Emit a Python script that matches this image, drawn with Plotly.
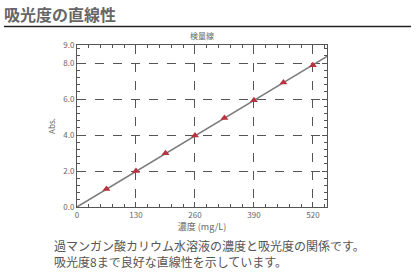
import plotly.graph_objects as go

# Data
conc = [65, 130, 195, 260, 325, 390, 455, 520]
absorb = [1.0, 2.0, 2.98, 3.97, 4.95, 5.93, 6.91, 7.88]
fit_x = [0, 551]
fit_y = [0.0, 8.37]
x_ticks = [0, 130, 260, 390, 520]
y_ticks = [0, 2, 4, 6, 8, 9]
y_tick_labels = ["0.0", "2.0", "4.0", "6.0", "8.0", "9.0"]
caption_lines = ["過マンガン酸カリウム水溶液の濃度と吸光度の関係です。",
                 "吸光度8まで良好な直線性を示しています。"]

FONT = "Noto Sans CJK JP"
GRAY = "#666666"

fig = go.Figure()
fig.add_trace(go.Scatter(x=fit_x, y=fit_y, mode="lines",
                         line=dict(color="#7a7a7a", width=1.5),
                         hoverinfo="skip", showlegend=False))
fig.add_trace(go.Scatter(x=conc, y=absorb, mode="markers",
                         marker=dict(symbol="triangle-up", size=7, color="#b8323f"),
                         showlegend=False))

axis_common = dict(
    showline=True, linecolor="#555555", linewidth=1, mirror="ticks",
    ticks="inside", ticklen=5, tickcolor="#555555",
    showgrid=True, gridcolor="#555555", griddash="dash", gridwidth=1,
    zeroline=False,
    tickfont=dict(family=FONT, size=8, color=GRAY),
)

fig.update_xaxes(range=[0, 551], tickvals=x_ticks, ticktext=[str(v) for v in x_ticks],
                 minor=dict(dtick=26, tick0=0, ticklen=3, ticks="inside",
                            tickcolor="#555555", showgrid=False),
                 title=dict(text="濃度 (mg/L)", font=dict(family=FONT, size=9, color=GRAY),
                            standoff=4),
                 **axis_common)
fig.update_yaxes(range=[0, 9], tickvals=y_ticks, ticktext=y_tick_labels,
                 minor=dict(dtick=0.4, tick0=0, ticklen=3, ticks="inside",
                            tickcolor="#555555", showgrid=False),
                 title=dict(text="Abs.", font=dict(family=FONT, size=8, color=GRAY),
                            standoff=6),
                 **axis_common)

fig.update_layout(
    width=417, height=274,
    margin=dict(l=77, r=90, t=45, b=67),
    paper_bgcolor="white", plot_bgcolor="white",
    font=dict(family=FONT, color=GRAY),
    title=dict(text="検量線", x=0.4845, xanchor="center", y=1 - 36 / 274, yanchor="middle",
               font=dict(family=FONT, size=8, color=GRAY)),
)

fig.add_annotation(text="吸光度の直線性", xref="paper", yref="paper",
                   x=-75 / 250, y=1 + (45 - 14) / 162, xanchor="left", yanchor="middle",
                   showarrow=False,
                   font=dict(family=FONT, size=16, color="#666666", weight=600))
fig.add_shape(type="line", xref="paper", yref="paper",
              x0=-73 / 250, x1=1 + 84 / 250, y0=1 + (45 - 26.5) / 162, y1=1 + (45 - 26.5) / 162,
              line=dict(color="#222222", width=1.5))
for i, (line_text, ypix) in enumerate(zip(caption_lines, [245.5, 261.5])):
    fig.add_annotation(text=line_text, xref="paper", yref="paper",
                       x=-25 / 250, y=-(ypix - 207) / 162,
                       xanchor="left", yanchor="middle", align="left", showarrow=False,
                       font=dict(family=FONT, size=12, color="#555555"))

fig.write_html("out.html")
